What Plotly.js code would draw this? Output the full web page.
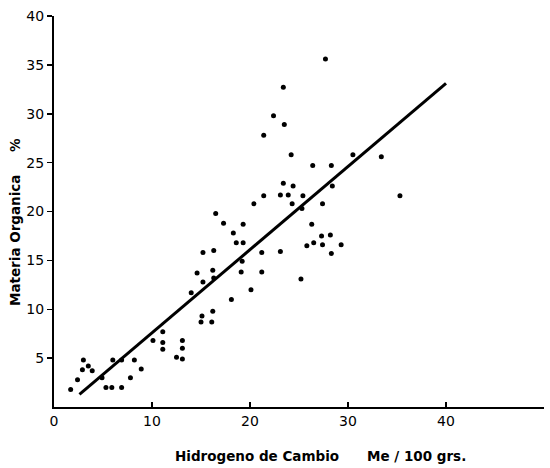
<!DOCTYPE html>
<html>
<head>
<meta charset="utf-8">
<script src="https://cdn.plot.ly/plotly-3.0.1.min.js"></script>
<style>html,body{margin:0;padding:0;background:#fff;}#chart{width:550px;height:468px;}</style>
</head>
<body>
<div id="chart"></div>
<script>
// Hidrogeno de Cambio (Me/100 grs.)
const hidrogeno = [1.7,2.4,3.0,2.9,3.5,3.9,4.9,5.3,5.9,6.9,6.0,6.9,8.2,7.8,8.9,10.1,11.1,11.1,11.1,13.1,13.1,12.5,13.1,14.0,18.1,20.1,15.1,16.2,15.0,16.1,24.2,26.4,28.3,28.4,23.4,24.4,21.4,23.1,23.9,25.4,20.4,24.3,25.3,27.4,16.5,17.3,19.3,18.3,18.6,19.3,26.3,27.3,28.2,25.8,26.5,27.4,29.3,28.3,15.2,16.3,19.2,21.2,23.1,14.6,16.2,16.3,15.2,19.1,21.2,27.7,23.4,22.4,23.5,21.4,30.5,33.4,35.3,25.2];
// Materia Organica (%)
const materia = [1.8,2.8,4.8,3.8,4.2,3.7,3.0,2.0,2.0,2.0,4.8,4.8,4.8,3.0,3.9,6.8,7.7,6.6,5.9,6.8,6.0,5.1,4.9,11.7,11.0,12.0,9.3,9.8,8.7,8.7,25.8,24.7,24.7,22.6,22.9,22.6,21.6,21.7,21.7,21.6,20.8,20.8,20.3,20.8,19.8,18.8,18.7,17.8,16.8,16.8,18.7,17.5,17.6,16.5,16.8,16.6,16.6,15.7,15.8,16.0,14.9,15.8,15.9,13.7,14.0,13.2,12.8,13.8,13.8,35.6,32.7,29.8,28.9,27.8,25.8,25.6,21.6,13.1];
// Regression line end points
const lineX = [2.6, 40];
const lineY = [1.3, 33.1];
// Tick labels
const xTicks = [0,10,20,30,40,50];
const yTicks = [5,10,15,20,25,30,35,40];
// Axis title texts
const xTitle = 'Hidrogeno de Cambio';
const xUnit = 'Me / 100 grs.';
const yTitle = 'Materia Organica';
const yUnit = '%';

const font = {family: 'DejaVu Sans, Liberation Sans, sans-serif', color: '#000'};
const tfont = Object.assign({size: 13.5}, font);

Plotly.newPlot('chart', [
  {x: hidrogeno, y: materia, type: 'scatter', mode: 'markers',
   marker: {color: '#000', size: 5}, hoverinfo: 'skip', showlegend: false},
  {x: lineX, y: lineY, type: 'scatter', mode: 'lines',
   line: {color: '#000', width: 3}, hoverinfo: 'skip', showlegend: false}
], {
  width: 550, height: 468,
  margin: {l: 54, r: 6, t: 16, b: 61},
  paper_bgcolor: '#fff', plot_bgcolor: '#fff',
  font: Object.assign({size: 13}, font),
  xaxis: {
    range: [0, 50], tickvals: xTicks, ticktext: xTicks.map(String),
    showgrid: false, zeroline: false, showline: true, linecolor: '#000', linewidth: 2,
    ticks: 'inside', ticklen: 5, tickwidth: 1.5, tickcolor: '#000',
    tickfont: Object.assign({size: 14}, font)
  },
  yaxis: {
    range: [0, 40], tickvals: yTicks, ticktext: yTicks.map(String),
    showgrid: false, zeroline: false, showline: true, linecolor: '#000', linewidth: 2,
    ticks: 'outside', ticklen: 5, tickwidth: 1.5, tickcolor: '#000',
    tickfont: Object.assign({size: 14}, font)
  },
  annotations: [
    {text: '<b>' + xTitle + '</b>', xref: 'paper', yref: 'paper', x: 0.415, y: -0.1253,
     xanchor: 'center', yanchor: 'middle', showarrow: false, font: tfont},
    {text: '<b>' + xUnit + '</b>', xref: 'paper', yref: 'paper', x: 0.739, y: -0.1253,
     xanchor: 'center', yanchor: 'middle', showarrow: false, font: tfont},
    {text: '<b>' + yTitle + '</b>', xref: 'paper', yref: 'paper', x: -0.0796, y: 0.427,
     xanchor: 'center', yanchor: 'middle', textangle: -90, showarrow: false, font: tfont},
    {text: '<b>' + yUnit + '</b>', xref: 'paper', yref: 'paper', x: -0.0796, y: 0.670,
     xanchor: 'center', yanchor: 'middle', textangle: -90, showarrow: false, font: tfont}
  ]
}, {staticPlot: true});
</script>
</body>
</html>
